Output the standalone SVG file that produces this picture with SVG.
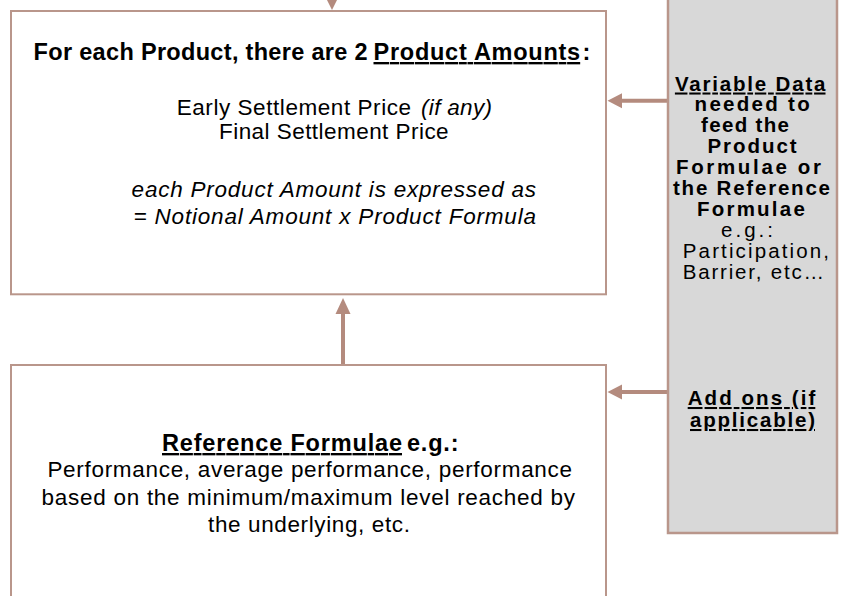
<svg xmlns="http://www.w3.org/2000/svg" width="843" height="596" viewBox="0 0 843 596">
<style>
.box{fill:#FFFFFF;stroke:#B9968B;stroke-width:2}
.gbox{fill:#D8D8D8;stroke:#B9968B;stroke-width:2.5}
.ln{stroke:#B48B7E;stroke-width:4;fill:none}
.hd{fill:#B48B7E}
text{font-family:"Liberation Sans",Arial,sans-serif;fill:#000}
.b{font-weight:bold}
.i{font-style:italic}
.u{text-decoration:underline}
.tt{font-size:23.5px}
.tr{font-size:22.5px}
.tg{font-size:20.5px}
</style>
<rect width="843" height="596" fill="#FFFFFF"/>
<g id="connectors">
  <polygon class="hd" points="332,10 324.5,-5 339.5,-5"/>
  <line class="ln" x1="343" y1="365" x2="343" y2="312"/>
  <polygon class="hd" points="343,298 335.5,314 350.5,314"/>
  <line class="ln" x1="668" y1="100.7" x2="620" y2="100.7"/>
  <polygon class="hd" points="607.5,100.7 622,93.2 622,108.2"/>
  <line class="ln" x1="668" y1="392" x2="620" y2="392"/>
  <polygon class="hd" points="607.5,392 622,384.5 622,399.5"/>
</g>
<g id="product-amounts">
  <rect class="box" x="11" y="11" width="595" height="283.3"/>
  <text class="b tt" x="33.6" y="60" textLength="334">For each Product, there are 2</text>
  <text class="b tt u" x="373.5" y="60" textLength="206.7">Product Amounts</text>
  <text class="b tt" x="582.5" y="60">:</text>
  <text class="tr" x="176.7" y="115" textLength="234.3">Early  Settlement  Price</text>
  <text class="tr i" x="421" y="115" textLength="71">(if any)</text>
  <text class="tr" x="219" y="138.5" textLength="229.6">Final  Settlement  Price</text>
  <text class="tr i" x="131.6" y="196.7" textLength="404.4">each Product Amount  is expressed as</text>
  <text class="tr i" x="133.5" y="224" textLength="402.5">= Notional Amount  x Product Formula</text>
</g>
<g id="reference-formulae">
  <rect class="box" x="11" y="365" width="595" height="245"/>
  <text class="b tt u" x="162" y="451" textLength="240">Reference Formulae</text>
  <text class="b tt" x="407" y="451" textLength="51.5">e.g.:</text>
  <text class="tr" x="47.4" y="477" textLength="524.6">Performance,  average performance,  performance</text>
  <text class="tr" x="41.5" y="504.5" textLength="533.5">based on the minimum/maximum  level reached by</text>
  <text class="tr" x="208" y="532" textLength="202">the underlying,  etc.</text>
</g>
<g id="variable-data">
  <rect class="gbox" x="668" y="-5" width="169" height="538"/>
  <text class="b tg u" x="674.9" y="90.5" textLength="150.6">Variable Data</text>
  <text class="b tg" x="694.6" y="111.4" textLength="115.1">needed to</text>
  <text class="b tg" x="701" y="132.3" textLength="88">feed the</text>
  <text class="b tg" x="707.4" y="153.2" textLength="89.2">Product</text>
  <text class="b tg" x="676" y="174.1" textLength="145">Formulae or</text>
  <text class="b tg" x="673" y="195" textLength="157">the Reference</text>
  <text class="b tg" x="697" y="215.9" textLength="107.8">Formulae</text>
  <text class="tg" x="721" y="236.8" textLength="52">e.g.:</text>
  <text class="tg" x="682.8" y="257.7" textLength="146.2">Participation,</text>
  <text class="tg" x="682.8" y="278.6" textLength="141.2">Barrier, etc…</text>
  <text class="b tg u" x="687.7" y="405" textLength="127.6">Add ons (if</text>
  <text class="b tg u" x="690" y="427" textLength="125">applicable)</text>
</g>
</svg>
